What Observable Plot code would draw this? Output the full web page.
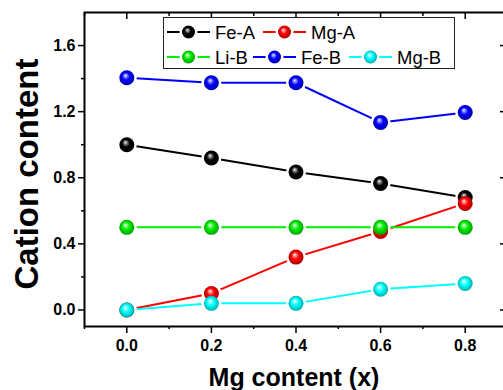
<!DOCTYPE html>
<html><head><meta charset="utf-8">
<script src="https://cdn.jsdelivr.net/npm/d3@7"></script>
<script src="https://cdn.jsdelivr.net/npm/@observablehq/plot@0.6"></script>
<style>
html,body{margin:0;padding:0;background:#fff;overflow:hidden;width:503px;height:390px}
#wrap{position:relative;width:503px;height:390px;overflow:hidden;background:#fff}
#wrap svg{max-width:none !important;height:auto}
#wrap svg.overlay{position:absolute;left:0;top:0;pointer-events:none}
</style></head><body><div id="wrap"></div>
<script>
// ---- data ----
const xValues = [0, 0.2, 0.4, 0.6, 0.8];
const seriesNames = ["Fe-A", "Mg-A", "Li-B", "Fe-B", "Mg-B"];
const feA = [1.0, 0.92, 0.835, 0.765, 0.68];
const mgA = [0.0, 0.10, 0.32, 0.475, 0.645];
const liB = [0.5, 0.5, 0.5, 0.5, 0.5];
const feB = [1.405, 1.375, 1.375, 1.135, 1.195];
const mgB = [0.0, 0.04, 0.04, 0.125, 0.16];
const xMajorTicks = [0, 0.2, 0.4, 0.6, 0.8];
const xMinorTicks = [-0.1, 0.1, 0.3, 0.5, 0.7];
const yMajorTicks = [0, 0.4, 0.8, 1.2, 1.6];
const yMinorTicks = [0.2, 0.6, 1.0, 1.4];
const xTitle = "Mg content (x)";
const yTitle = "Cation content";
// ---- styles ----
const seriesColors = ["#000000", "#ff0000", "#00ee00", "#0000ff", "#00ffff"];

const seriesValues = [feA, mgA, liB, feB, mgB];
const table = seriesNames.flatMap((name, i) =>
  xValues.map((x, j) => ({series: name, idx: i, x, y: seriesValues[i][j]})));

const font = "'Liberation Sans', Arial, sans-serif";
const W = 510, H = 390;

const marks = [];
seriesNames.forEach((n, i) => {
  marks.push(Plot.line(table.filter(d => d.idx === i), {x: "x", y: "y", stroke: seriesColors[i], strokeWidth: 2}));
});
marks.push(Plot.dot(table, {x: "x", y: "y", r: 10, fill: "white", stroke: "none"}));
seriesNames.forEach((n, i) => {
  marks.push(Plot.dot(table.filter(d => d.idx === i), {x: "x", y: "y", r: 7.5, fill: `url(#sph${i})`, stroke: "none"}));
});
marks.push(
  Plot.frame({stroke: "black", strokeWidth: 2}),
  Plot.axisY({ticks: yMajorTicks, tickFormat: d => d.toFixed(1), tickSize: 6, tickPadding: 3, strokeWidth: 1.5, fontSize: 16, fontWeight: "bold", label: null}),
  Plot.axisY({ticks: yMinorTicks, tickFormat: () => "", tickSize: 3, strokeWidth: 1.5, label: null}),
  Plot.axisY({anchor: "right", ticks: yMajorTicks, tickFormat: () => "", tickSize: -8, strokeWidth: 1.5, label: null}),
  Plot.axisX({ticks: xMajorTicks, tickFormat: d => d.toFixed(1), tickSize: 7, tickPadding: 6, strokeWidth: 1.5, fontSize: 16, fontWeight: "bold", label: null}),
  Plot.axisX({ticks: xMinorTicks, tickFormat: () => "", tickSize: 3, strokeWidth: 1.5, label: null}),
  Plot.axisX({anchor: "top", ticks: xMajorTicks, tickFormat: () => "", tickSize: -6, strokeWidth: 1.5, label: null}),
  Plot.axisX({anchor: "top", ticks: xMinorTicks, tickFormat: () => "", tickSize: -3, strokeWidth: 1.5, label: null})
);

const chart = Plot.plot({
  width: W, height: H,
  marginLeft: 84, marginRight: 3, marginTop: 12, marginBottom: 64,
  style: {fontFamily: font, color: "black", background: "white", overflow: "visible", maxWidth: "none"},
  x: {domain: [-0.1, 0.9]},
  y: {domain: [-0.1, 1.8]},
  marks
});
chart.style.maxWidth = "none";
chart.style.width = W + "px";
chart.style.height = H + "px";

// sphere gradients
const svg = d3.select(chart);
const defs = svg.insert("defs", ":first-child");
seriesColors.forEach((c, i) => {
  const g = defs.append("radialGradient").attr("id", `sph${i}`)
    .attr("cx", "50%").attr("cy", "50%").attr("r", "55%").attr("fx", "40%").attr("fy", "33%");
  const light = d3.interpolateRgb(c, "#ffffff");
  g.append("stop").attr("offset", "0%").attr("stop-color", light(0.95));
  g.append("stop").attr("offset", "18%").attr("stop-color", light(0.55));
  g.append("stop").attr("offset", "45%").attr("stop-color", c);
  g.append("stop").attr("offset", "100%").attr("stop-color", d3.color(c).darker(1.3).formatHex());
});

const wrap = document.getElementById("wrap");
wrap.appendChild(chart);

// overlay: titles and legend
const ov = d3.select(wrap).append("svg").attr("class", "overlay")
  .attr("width", 503).attr("height", 390)
  .style("font-family", font);
ov.append("text").attr("x", 294).attr("y", 386).attr("text-anchor", "middle")
  .attr("font-size", 25).attr("font-weight", "bold").text(xTitle);
ov.append("text").attr("transform", "translate(38,174) rotate(-90)").attr("text-anchor", "middle")
  .attr("font-size", 33).attr("font-weight", "bold").text(yTitle);

const lg = ov.append("g").attr("transform", "translate(163,17)");
lg.append("rect").attr("x", 0.5).attr("y", 0.5).attr("width", 291).attr("height", 51)
  .attr("fill", "white").attr("stroke", "#222").attr("stroke-width", 1);
const legendSlots = [[4, 15], [100, 15], [4, 40], [90, 40], [186, 40]];
seriesNames.forEach((n, i) => {
  const [lx, ly] = legendSlots[i];
  const e = lg.append("g").attr("transform", `translate(${lx},${ly})`);
  e.append("line").attr("x1", 0).attr("x2", 43).attr("y1", 0).attr("y2", 0)
    .attr("stroke", seriesColors[i]).attr("stroke-width", 2);
  e.append("circle").attr("cx", 21.5).attr("cy", 0).attr("r", 9).attr("fill", "white");
  e.append("circle").attr("cx", 21.5).attr("cy", 0).attr("r", 6.5).attr("fill", `url(#sph${i})`);
  e.append("text").attr("x", 48).attr("y", 0).attr("dy", "0.36em")
    .attr("font-size", 18.5).text(n);
});
</script></body></html>
